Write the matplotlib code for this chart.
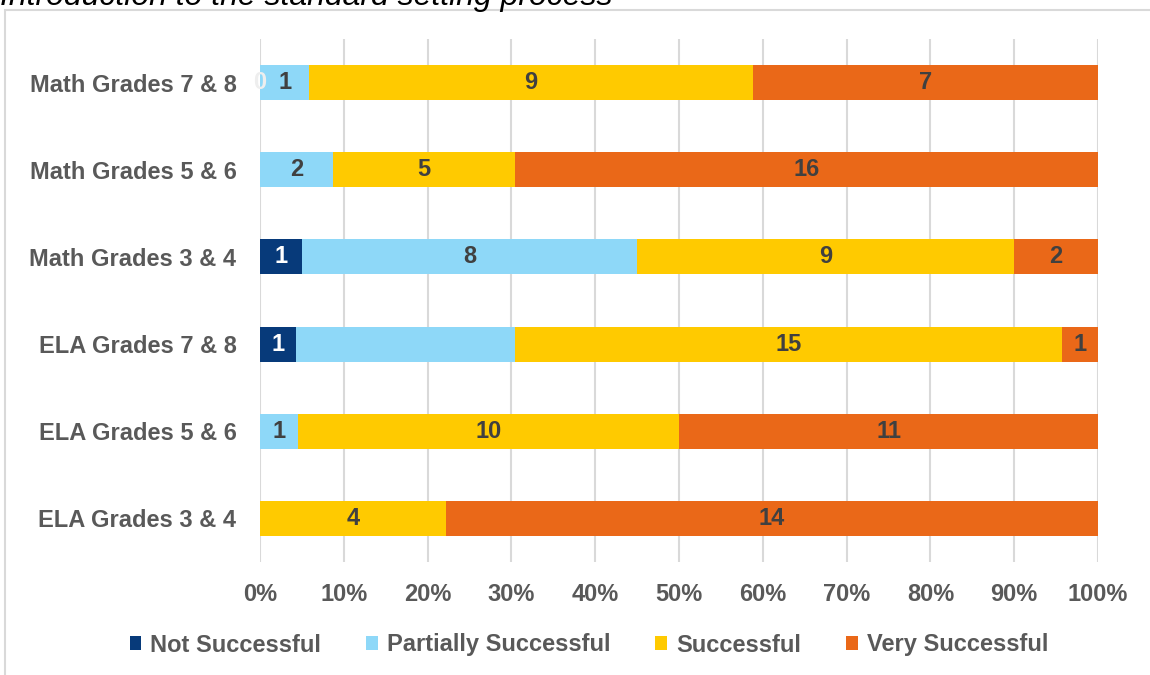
import numpy as np
import matplotlib
matplotlib.use("Agg")
import matplotlib.pyplot as plt
from matplotlib.patches import Rectangle

# ---------------------------------------------------------------------------
# Data (counts per rating, bottom row first)
# ---------------------------------------------------------------------------
categories = ["ELA Grades 3 & 4", "ELA Grades 5 & 6", "ELA Grades 7 & 8",
              "Math Grades 3 & 4", "Math Grades 5 & 6", "Math Grades 7 & 8"]
series_names = ["Not Successful", "Partially Successful", "Successful", "Very Successful"]
not_successful = [0, 0, 1, 1, 0, 0]
partially_successful = [0, 1, 6, 8, 2, 1]
successful = [4, 10, 15, 9, 5, 9]
very_successful = [14, 11, 1, 2, 16, 7]

# which data labels the original chart shows
show_not = [False, False, True, True, False, True]
show_partial = [False, True, False, True, True, True]
show_succ = [True, True, True, True, True, True]
show_very = [True, True, True, True, True, True]

x_ticks = [0, 10, 20, 30, 40, 50, 60, 70, 80, 90, 100]
title = "Introduction to the standard setting process"

colors = ["#073A7A", "#8ED8F8", "#FFCA00", "#EA6818"]
label_colors = ["white", "#404040", "#404040", "#404040"]
gray = "#595959"

# ---------------------------------------------------------------------------
# Plot
# ---------------------------------------------------------------------------
plt.rcParams["font.family"] = ["Liberation Sans", "DejaVu Sans"]
FS = 17

counts = np.array([not_successful, partially_successful, successful, very_successful], dtype=float)
totals = counts.sum(axis=0)
pct = counts / totals * 100
shows = [show_not, show_partial, show_succ, show_very]

fig = plt.figure(figsize=(11.5, 6.75), dpi=100)
ax = fig.add_axes([260 / 1150, (675 - 562) / 675, (1098 - 260) / 1150, (562 - 39) / 675])

y = np.arange(len(categories))
left = np.zeros(len(categories))
for s in range(len(series_names)):
    ax.barh(y, pct[s], left=left, height=0.40, color=colors[s],
            label=series_names[s], zorder=3, linewidth=0)
    for i in range(len(categories)):
        if shows[s][i]:
            c = label_colors[s]
            if counts[s][i] == 0:
                c = "#eeeeee"
            ax.text(left[i] + pct[s][i] / 2, y[i], f"{int(counts[s][i])}",
                    ha="center", va="center", fontsize=FS, fontweight="bold",
                    color=c, zorder=4)
    left = left + pct[s]

ax.set_xlim(0, 100)
ax.set_ylim(-0.5, len(categories) - 0.5)
ax.set_xticks(x_ticks)
ax.set_xticklabels([f"{t}%" for t in x_ticks])
ax.set_yticks(y)
ax.set_yticklabels(categories)
ax.tick_params(axis="both", length=0, labelsize=FS, labelcolor=gray)
ax.tick_params(axis="y", pad=17)
ax.tick_params(axis="x", pad=15)
for lab in ax.get_xticklabels() + ax.get_yticklabels():
    lab.set_fontweight("bold")
ax.grid(axis="x", color="#d9d9d9", lw=1.5, zorder=0)
for sp in ax.spines.values():
    sp.set_visible(False)

leg = fig.legend(loc="center", bbox_to_anchor=(0.512, 1 - 645 / 675), ncol=4,
                 frameon=False, handlelength=0.5, handleheight=0.5,
                 handletextpad=0.38, columnspacing=1.9,
                 prop={"size": FS, "weight": "bold"})
for t in leg.get_texts():
    t.set_color(gray)

# outer chart border (runs off the right and bottom edges)
fig.patches.append(Rectangle((5 / 1150, -0.1), 1.2, 1 - 10 / 675 + 0.1,
                             transform=fig.transFigure, fill=False,
                             edgecolor="#d9d9d9", lw=1.5))

# cropped heading above the chart, as in the source
fig.text(0.0, 1 - 5 / 675, title, ha="left", va="baseline", fontsize=23,
         style="italic", color="#000000")

fig.savefig("out.png", dpi=100)
